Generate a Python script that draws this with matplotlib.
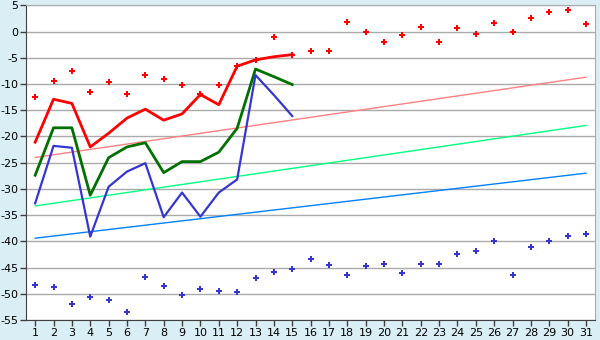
import matplotlib
matplotlib.use('Agg')
import matplotlib.pyplot as plt
import numpy as np

plt.rcParams['font.family'] = ['DejaVu Sans']

days = np.arange(1, 32)
line_days = np.arange(1, 16)

# valeurs
red_points = [-12.4, -9.5, -7.6, -11.6, -9.7, -12.0, -8.2, -9.1, -10.1, -12.0,
              -10.1, -6.6, -5.4, -1.1, -4.4, -3.8, -3.8, 1.75, -0.15, -2.05,
              -0.7, 0.8, -2.05, 0.6, -0.55, 1.55, -0.15, 2.5, 3.65, 4.05, 1.4]
blue_points = [-48.4, -48.8, -52.0, -50.7, -51.25, -53.55, -46.85, -48.6, -50.3, -49.0,
               -49.5, -49.7, -47.05, -45.9, -45.3, -43.4, -44.6, -46.5, -44.75, -44.4,
               -46.1, -44.4, -44.4, -42.5, -41.9, -40.0, -46.5, -41.15, -40.0, -39.05, -38.65]
red_line = [-21.1, -12.9, -13.7, -22.0, -19.4, -16.5, -14.8, -16.9, -15.7, -12.0,
            -13.95, -6.6, -5.4, -4.8, -4.4]
green_line = [-27.4, -18.35, -18.35, -31.2, -24.05, -22.0, -21.2, -26.9, -24.8, -24.8,
              -23.0, -18.45, -7.15, -8.6, -10.1]
blue_line = [-32.75, -21.8, -22.15, -39.1, -29.6, -26.7, -25.1, -35.4, -30.7, -35.3,
             -30.7, -28.2, -8.3, -12.1, -16.1]
# tendances : valeur au jour 1 et au jour 31
trend_days = [1, 31]
red_trend = [-24.0, -8.7]
green_trend = [-33.25, -17.9]
blue_trend = [-39.4, -27.0]

fig = plt.figure(figsize=(6, 3.4), dpi=100, facecolor='#D9EEF5')
ax = fig.add_axes([0.0433, 0.0588, 0.9487, 0.9255])
ax.set_facecolor('white')

ax.plot(trend_days, red_trend, color='#FF8080', lw=1)
ax.plot(trend_days, green_trend, color='#00FF80', lw=1)
ax.plot(trend_days, blue_trend, color='#0080FF', lw=1)

ax.plot(line_days, green_line, color='#007000', lw=2)
ax.plot(line_days, blue_line, color='#3535D0', lw=1.6)
ax.plot(line_days, red_line, color='#FF0000', lw=2)

ax.scatter(days, red_points, marker='P', s=20, color='#FF0000', linewidths=0, zorder=5)
ax.scatter(days, blue_points, marker='P', s=20, color='#3535D0', linewidths=0, zorder=5)

ax.set_xlim(0.5, 31.5)
ax.set_ylim(-55, 5)
ax.set_xticks(days)
ax.set_yticks(np.arange(-55, 6, 5))
ax.set_yticklabels([str(v) for v in range(-55, 6, 5)])
ax.grid(axis='y', color='#AAAAAA', lw=1)
ax.set_axisbelow(True)
ax.tick_params(labelsize=8, length=4, width=1, color='#404040', pad=1.5)
for side in ['left', 'bottom']:
    ax.spines[side].set_color('#404040')
for side in ['top', 'right']:
    ax.spines[side].set_color('#AAAAAA')

fig.savefig('out.png', dpi=100, facecolor=fig.get_facecolor())
